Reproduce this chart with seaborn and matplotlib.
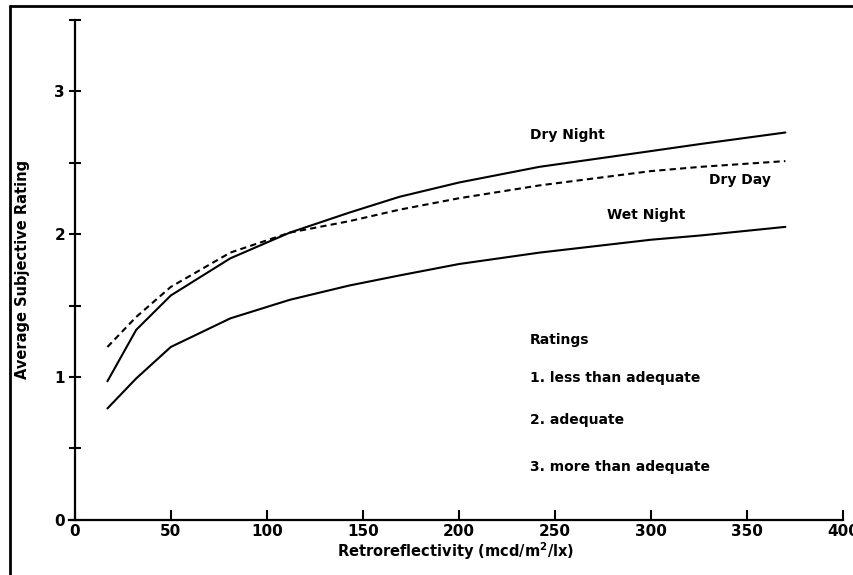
import numpy as np
import pandas as pd
import seaborn as sns
import matplotlib.pyplot as plt
from matplotlib.lines import Line2D

# values
dry_night_x = [17, 32, 50, 81, 112, 143, 169, 200, 242, 300, 326, 370]
dry_night_y = [0.97, 1.33, 1.57, 1.83, 2.01, 2.15, 2.26, 2.36, 2.47, 2.58, 2.63, 2.71]

dry_day_x = [17, 32, 50, 81, 112, 143, 169, 200, 242, 300, 326, 370]
dry_day_y = [1.21, 1.42, 1.63, 1.87, 2.01, 2.09, 2.17, 2.25, 2.34, 2.44, 2.47, 2.51]

wet_night_x = [17, 32, 50, 81, 112, 143, 169, 200, 242, 300, 326, 370]
wet_night_y = [0.78, 0.99, 1.21, 1.41, 1.54, 1.64, 1.71, 1.79, 1.87, 1.96, 1.99, 2.05]

x_ticks = [0, 50, 100, 150, 200, 250, 300, 350, 400]
y_ticks = [0, 1, 2, 3]

df = pd.concat([
    pd.DataFrame({'retro': dry_night_x, 'rating': dry_night_y, 'cond': 'Dry Night'}),
    pd.DataFrame({'retro': dry_day_x, 'rating': dry_day_y, 'cond': 'Dry Day'}),
    pd.DataFrame({'retro': wet_night_x, 'rating': wet_night_y, 'cond': 'Wet Night'}),
])

sns.set_style('ticks')
plt.rcParams['font.family'] = ['DejaVu Sans']

fig = plt.figure(figsize=(8.54, 5.75), dpi=100)
ax = fig.add_axes([0.0808, 0.0957, 0.9063, 0.8703])

sns.lineplot(data=df, x='retro', y='rating', style='cond',
             dashes={'Dry Night': '', 'Dry Day': (3, 2), 'Wet Night': ''},
             color='black', linewidth=1.5, legend=False, ax=ax, sort=False)

ax.set_xlim(-3, 400)
ax.set_ylim(0, 3.5)
ax.spines['left'].set_position(('data', 0))
ax.spines['top'].set_visible(False)
ax.spines['right'].set_visible(False)
for s in ['left', 'bottom']:
    ax.spines[s].set_linewidth(1.6)
    ax.spines[s].set_color('black')

ax.set_xticks(x_ticks)
ax.set_xticklabels([str(v) for v in x_ticks], fontsize=11, fontweight='bold')
ax.set_yticks(y_ticks)
ax.set_yticklabels([str(v) for v in y_ticks], fontsize=11, fontweight='bold')
ax.set_yticks([0.5, 1.5, 2.5, 3.5], minor=True)
ax.tick_params(axis='y', which='both', direction='inout', length=8, width=1.5,
               color='black', labelcolor='black', pad=3)
ax.tick_params(axis='x', which='major', direction='in', length=7, width=1.5,
               color='black', labelcolor='black', pad=3)

ax.set_xlabel('Retroreflectivity (mcd/m$^\\mathbf{2}$/lx)', fontsize=10.5,
              fontweight='bold', labelpad=1, color='black')
ax.set_ylabel('Average Subjective Rating', fontsize=10.5, fontweight='bold',
              color='black')
ax.yaxis.set_label_coords(-0.05, 0.5)

tkw = dict(fontsize=10, fontweight='bold', color='black', va='center')
ax.text(237, 2.69, 'Dry Night', **tkw)
ax.text(330, 2.38, 'Dry Day', **tkw)
ax.text(277, 2.13, 'Wet Night', **tkw)
ax.text(237, 1.26, 'Ratings', **tkw)
ax.text(237, 0.99, '1. less than adequate', **tkw)
ax.text(237, 0.70, '2. adequate', **tkw)
ax.text(237, 0.37, '3. more than adequate', **tkw)

# frame of the scanned page
fig.add_artist(Line2D([0.0117, 0.0117], [0.0, 0.9896], color='black', lw=2,
                      transform=fig.transFigure))
fig.add_artist(Line2D([0.0117, 1.0], [0.9896, 0.9896], color='black', lw=2,
                      transform=fig.transFigure))

fig.savefig('out.png', dpi=100)
